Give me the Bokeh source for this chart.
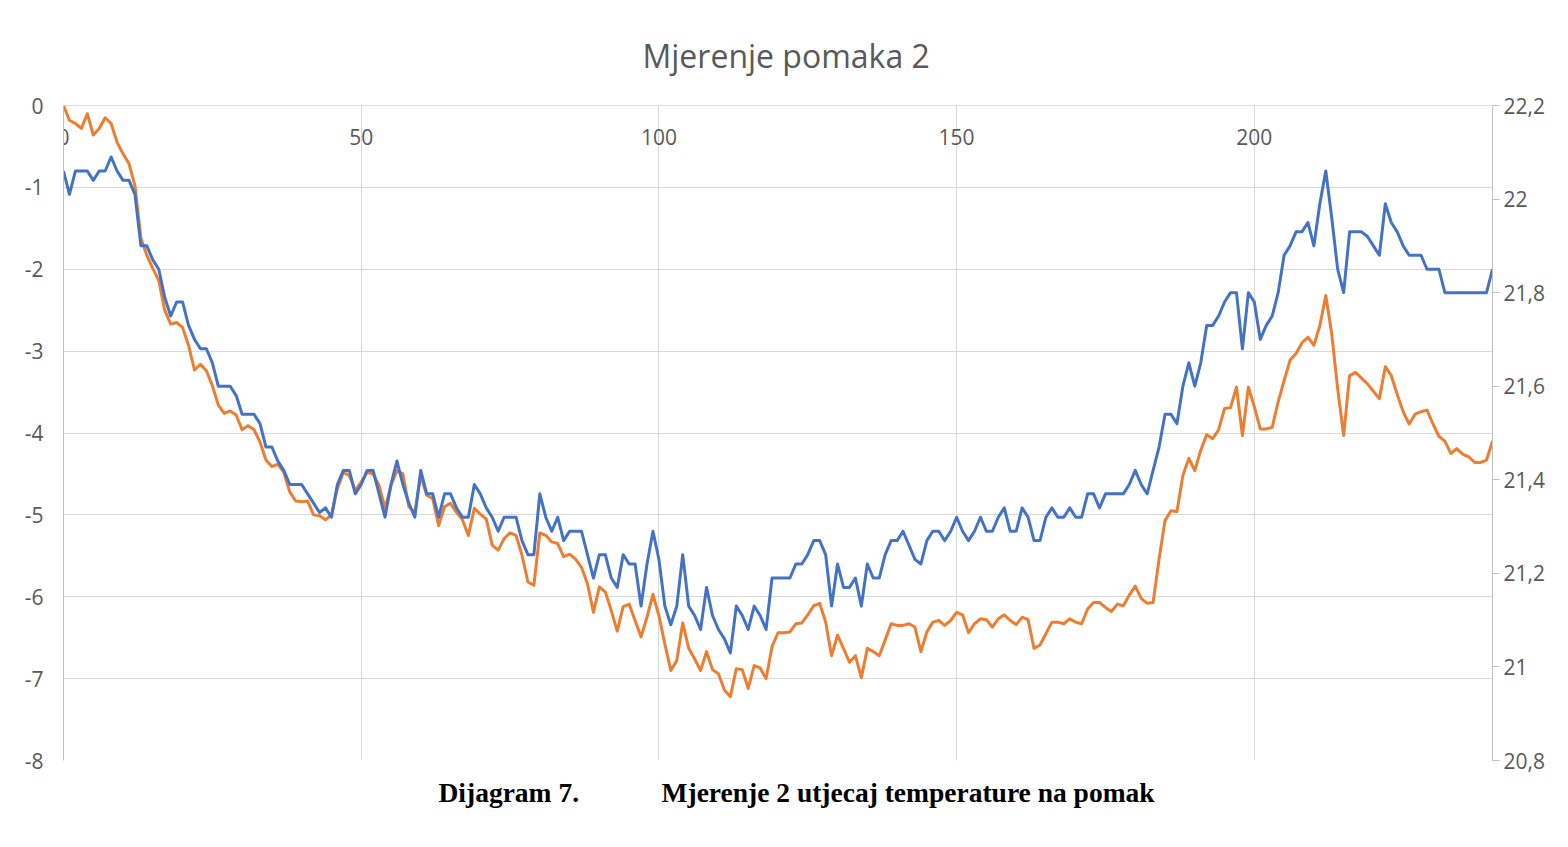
from bokeh.plotting import figure
from bokeh.models import (Range1d, LinearAxis, FixedTicker, CustomJSTickFormatter,
                          Title, ColumnDataSource)
from bokeh.embed import file_html
from bokeh.resources import INLINE

# ---------------- data ----------------
x_values = list(range(241))

displacement = [
    0.00, -0.18, -0.22, -0.28, -0.10, -0.36, -0.28, -0.15, -0.22, -0.45,
    -0.59, -0.71, -0.98, -1.62, -1.83, -1.99, -2.14, -2.50, -2.67, -2.65,
    -2.71, -2.93, -3.23, -3.16, -3.24, -3.42, -3.66, -3.76, -3.73, -3.78,
    -3.96, -3.91, -3.96, -4.11, -4.33, -4.41, -4.38, -4.48, -4.72, -4.83,
    -4.84, -4.83, -5.00, -5.01, -5.06, -5.00, -4.68, -4.48, -4.52, -4.70,
    -4.60, -4.48, -4.50, -4.64, -4.92, -4.64, -4.46, -4.50, -4.90, -4.97,
    -4.52, -4.76, -4.80, -5.13, -4.90, -4.86, -4.97, -5.06, -5.25, -4.92,
    -4.99, -5.05, -5.37, -5.43, -5.29, -5.22, -5.25, -5.49, -5.82, -5.86,
    -5.22, -5.25, -5.33, -5.35, -5.51, -5.48, -5.54, -5.64, -5.84, -6.19,
    -5.88, -5.94, -6.17, -6.42, -6.12, -6.09, -6.29, -6.49, -6.25, -5.97,
    -6.23, -6.58, -6.90, -6.78, -6.32, -6.63, -6.76, -6.90, -6.67, -6.89,
    -6.94, -7.14, -7.22, -6.88, -6.89, -7.12, -6.84, -6.87, -7.00, -6.61,
    -6.44, -6.44, -6.43, -6.33, -6.32, -6.22, -6.11, -6.08, -6.31, -6.72,
    -6.47, -6.63, -6.80, -6.72, -6.99, -6.63, -6.67, -6.72, -6.53, -6.33,
    -6.35, -6.35, -6.33, -6.37, -6.67, -6.43, -6.31, -6.29, -6.35, -6.29,
    -6.19, -6.22, -6.44, -6.33, -6.27, -6.28, -6.37, -6.27, -6.22, -6.29,
    -6.34, -6.25, -6.28, -6.63, -6.59, -6.45, -6.31, -6.31, -6.33, -6.27,
    -6.31, -6.33, -6.15, -6.07, -6.07, -6.13, -6.18, -6.09, -6.11, -5.98,
    -5.87, -6.02, -6.08, -6.07, -5.54, -5.07, -4.95, -4.96, -4.52, -4.31,
    -4.46, -4.21, -4.02, -4.07, -3.96, -3.70, -3.69, -3.44, -4.03, -3.44,
    -3.68, -3.95, -3.95, -3.93, -3.62, -3.36, -3.11, -3.03, -2.90, -2.83,
    -2.93, -2.69, -2.32, -2.79, -3.46, -4.03, -3.30, -3.26, -3.33, -3.40,
    -3.49, -3.58, -3.19, -3.30, -3.53, -3.74, -3.89, -3.77, -3.74, -3.72,
    -3.89, -4.04, -4.10, -4.25, -4.19, -4.26, -4.29, -4.36, -4.36, -4.33,
    -4.10,
]

temperature = [
    22.06, 22.01, 22.06, 22.06, 22.06, 22.04, 22.06, 22.06, 22.09, 22.06,
    22.04, 22.04, 22.01, 21.90, 21.90, 21.87, 21.85, 21.79, 21.75, 21.78,
    21.78, 21.73, 21.70, 21.68, 21.68, 21.65, 21.60, 21.60, 21.60, 21.58,
    21.54, 21.54, 21.54, 21.52, 21.47, 21.47, 21.44, 21.42, 21.39, 21.39,
    21.39, 21.37, 21.35, 21.33, 21.34, 21.32, 21.39, 21.42, 21.42, 21.37,
    21.39, 21.42, 21.42, 21.37, 21.32, 21.39, 21.44, 21.39, 21.35, 21.32,
    21.42, 21.37, 21.37, 21.32, 21.37, 21.37, 21.34, 21.32, 21.32, 21.39,
    21.37, 21.34, 21.32, 21.29, 21.32, 21.32, 21.32, 21.27, 21.24, 21.24,
    21.37, 21.32, 21.29, 21.32, 21.27, 21.29, 21.29, 21.29, 21.24, 21.19,
    21.24, 21.24, 21.19, 21.17, 21.24, 21.22, 21.22, 21.13, 21.22, 21.29,
    21.23, 21.13, 21.09, 21.13, 21.24, 21.13, 21.11, 21.08, 21.17, 21.11,
    21.08, 21.06, 21.03, 21.13, 21.11, 21.08, 21.13, 21.11, 21.08, 21.19,
    21.19, 21.19, 21.19, 21.22, 21.22, 21.24, 21.27, 21.27, 21.24, 21.13,
    21.22, 21.17, 21.17, 21.19, 21.13, 21.22, 21.19, 21.19, 21.24, 21.27,
    21.27, 21.29, 21.26, 21.23, 21.22, 21.27, 21.29, 21.29, 21.27, 21.29,
    21.32, 21.29, 21.27, 21.29, 21.32, 21.29, 21.29, 21.32, 21.34, 21.29,
    21.29, 21.34, 21.32, 21.27, 21.27, 21.32, 21.34, 21.32, 21.32, 21.34,
    21.32, 21.32, 21.37, 21.37, 21.34, 21.37, 21.37, 21.37, 21.37, 21.39,
    21.42, 21.39, 21.37, 21.42, 21.47, 21.54, 21.54, 21.52, 21.60, 21.65,
    21.60, 21.65, 21.73, 21.73, 21.75, 21.78, 21.80, 21.80, 21.68, 21.80,
    21.78, 21.70, 21.73, 21.75, 21.80, 21.88, 21.90, 21.93, 21.93, 21.95,
    21.90, 21.99, 22.06, 21.96, 21.85, 21.80, 21.93, 21.93, 21.93, 21.92,
    21.90, 21.88, 21.99, 21.95, 21.93, 21.90, 21.88, 21.88, 21.88, 21.85,
    21.85, 21.85, 21.80, 21.80, 21.80, 21.80, 21.80, 21.80, 21.80, 21.80,
    21.85,
]

x_ticks = [0, 50, 100, 150, 200]
left_ticks = [-8, -7, -6, -5, -4, -3, -2, -1, 0]
right_ticks = [20.8, 21.0, 21.2, 21.4, 21.6, 21.8, 22.0, 22.2]

title_text = "Mjerenje pomaka 2"
caption_text = "Dijagram 7.\u2003\u2003\u2003Mjerenje 2 utjecaj temperature na pomak"

# ---------------- figure ----------------
TICK_FONT = "Open Sans"
TICK_COLOR = "#595959"
TICK_SIZE = "21px"

p = figure(width=1560, height=839, output_backend="svg", toolbar_location=None,
           x_range=Range1d(0, 240), y_range=Range1d(-8, 0),
           min_border_left=63, min_border_right=68,
           min_border_top=105, min_border_bottom=79,
           background_fill_color="white", border_fill_color="white")
p.outline_line_color = None
p.extra_y_ranges = {"temp": Range1d(20.8, 22.2)}

p.title.text = title_text
p.title.align = "left"
p.title.offset = 579
p.title.text_font = "Open Sans"
p.title.text_font_size = "32px"
p.title.text_font_style = "normal"
p.title.text_color = "#595959"
p.title.standoff = 58

# x axis drawn at y = 0 (top of the frame), labels below the line
xa = p.xaxis[0]
xa.fixed_location = 0
xa.ticker = FixedTicker(ticks=x_ticks)
xa.major_tick_out = 0
xa.major_tick_in = 0
xa.minor_tick_out = 0
xa.minor_tick_in = 0
xa.major_label_standoff = 23
xa.axis_line_color = "#bfbfbf"
xa.axis_line_width = 1
xa.major_label_text_font = TICK_FONT
xa.major_label_text_font_size = TICK_SIZE
xa.major_label_text_color = TICK_COLOR

ya = p.yaxis[0]
ya.ticker = FixedTicker(ticks=left_ticks)
ya.formatter = CustomJSTickFormatter(code="return String(tick);")
ya.major_tick_out = 0
ya.major_tick_in = 0
ya.minor_tick_out = 0
ya.minor_tick_in = 0
ya.major_label_standoff = 20
ya.axis_line_color = "#bfbfbf"
ya.major_label_text_font = TICK_FONT
ya.major_label_text_font_size = TICK_SIZE
ya.major_label_text_color = TICK_COLOR

yr = LinearAxis(y_range_name="temp", ticker=FixedTicker(ticks=right_ticks),
                formatter=CustomJSTickFormatter(
                    code="return tick.toFixed(1).replace('.', ',').replace(',0', '');"))
yr.major_tick_out = 7
yr.major_tick_in = 0
yr.minor_tick_out = 0
yr.minor_tick_in = 0
yr.major_tick_line_color = "#bfbfbf"
yr.axis_line_color = "#bfbfbf"
yr.major_label_standoff = 4
yr.major_label_text_font = TICK_FONT
yr.major_label_text_font_size = TICK_SIZE
yr.major_label_text_color = TICK_COLOR
p.add_layout(yr, "right")

p.xgrid.ticker = FixedTicker(ticks=x_ticks)
p.ygrid.ticker = FixedTicker(ticks=left_ticks)
p.xgrid.grid_line_color = "#d9d9d9"
p.ygrid.grid_line_color = "#d9d9d9"
p.xgrid.grid_line_width = 1
p.ygrid.grid_line_width = 1

src = ColumnDataSource(dict(x=x_values, disp=displacement, temp=temperature))
p.line("x", "disp", source=src, line_color="#ED7D31", line_width=3, line_join="round")
p.line("x", "temp", source=src, y_range_name="temp", line_color="#4472C4",
       line_width=3, line_join="round")

caption = Title(text=caption_text, align="left", offset=375, text_font="Liberation Serif",
                text_font_style="bold", text_font_size="27.5px", text_color="black",
                standoff=28)
p.add_layout(caption, "below")

open("out.html", "w").write(file_html(p, INLINE))
